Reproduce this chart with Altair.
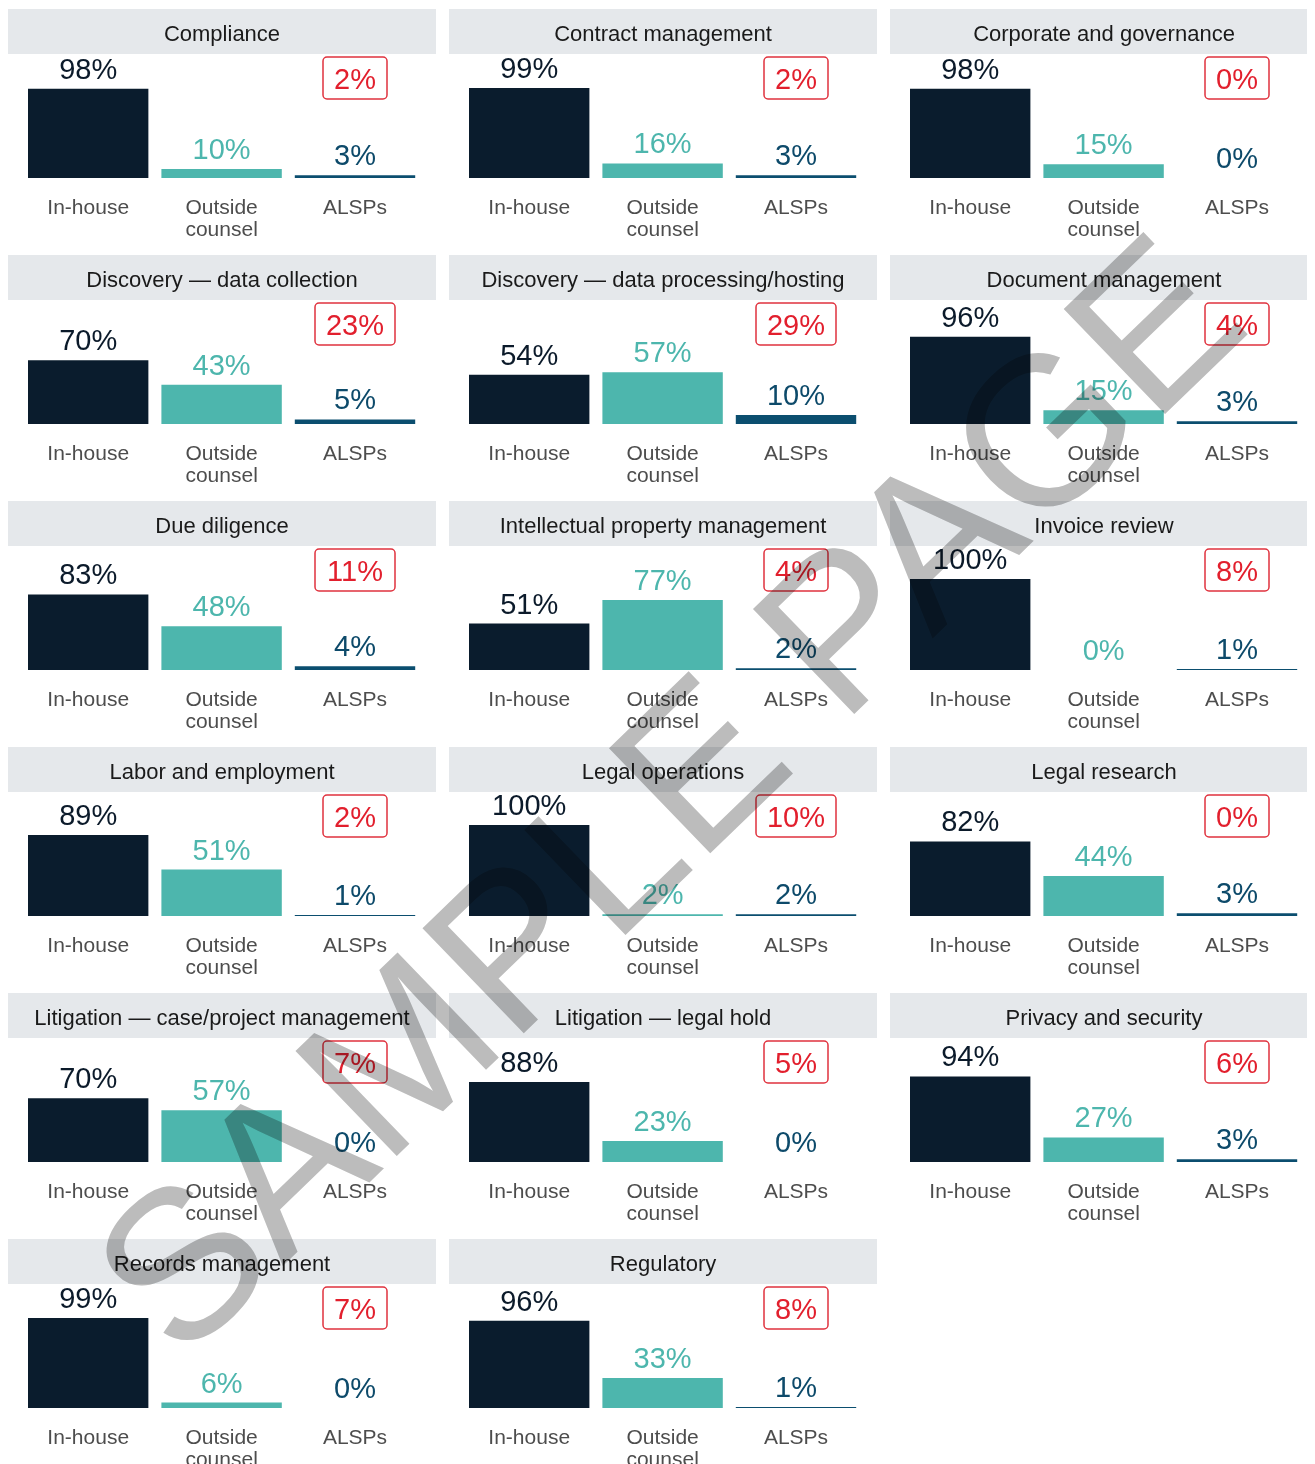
import json
import altair as alt
import pandas as pd

# ---------------- data ----------------
categories = [
    "Compliance",
    "Contract management",
    "Corporate and governance",
    "Discovery — data collection",
    "Discovery — data processing/hosting",
    "Document management",
    "Due diligence",
    "Intellectual property management",
    "Invoice review",
    "Labor and employment",
    "Legal operations",
    "Legal research",
    "Litigation — case/project management",
    "Litigation — legal hold",
    "Privacy and security",
    "Records management",
    "Regulatory",
]
inhouse = [98, 99, 98, 70, 54, 96, 83, 51, 100, 89, 100, 82, 70, 88, 94, 99, 96]
outside = [10, 16, 15, 43, 57, 15, 48, 77, 0, 51, 2, 44, 57, 23, 27, 6, 33]
alsps = [3, 3, 0, 5, 10, 3, 4, 2, 1, 1, 2, 3, 0, 0, 3, 0, 1]
boxed = [2, 2, 0, 23, 29, 4, 11, 4, 8, 2, 10, 0, 7, 5, 6, 7, 8]

groups = ["In-house", "Outside counsel", "ALSPs"]
group_text = ["In-house", "Outside\ncounsel", "ALSPs"]
watermark = "SAMPLE PAGE"

rows = []
for i, cat in enumerate(categories):
    for g, gt, v in zip(groups, group_text, (inhouse[i], outside[i], alsps[i])):
        rows.append({
            "category": cat,
            "group": g,
            "gtext": gt,
            "value": v,
            "vlabel": f"{v}%",
            "note": f"{boxed[i]}%",
            "wide": boxed[i] >= 10,
        })
df = pd.DataFrame(rows)

# ---------------- styling ----------------
FONT = "Liberation Sans"
W, H = 417, 233          # cell size (page is 1299 px wide inside the margins)
HEAD_W = 428             # header band width (overflows into the column gap)
bar_colors = ["#0a1c2d", "#4db6ad", "#0b4e6f"]
label_colors = ["#0b1a2a", "#4db6ad", "#0d4a6a"]
RED = "#e21f2d"

# y: value 0 -> 169 px, value 100 -> 78 px inside a 233 px cell
Y0, Y100 = 169.0, 78.0
span = 100.0 * H / (Y0 - Y100)
d0 = -(H - Y0) / H * span
ys = alt.Scale(domain=[d0, d0 + span], nice=False, zero=False)

# bands: 120 px bars on a 133.4 px step, first bar starting at x = 20
step, bw = 133.4, 120.4
pi = (step - bw) / step
r0 = 20 - (step - bw) / 2
xs = alt.Scale(domain=groups, range=[r0, r0 + 3 * step], paddingInner=pi, paddingOuter=pi / 2)
X = alt.X("group:N", scale=xs, axis=None, sort=groups)
Yv = alt.Y("value:Q", scale=ys, axis=None)

first = "datum.group == 'In-house'"
alsp = "datum.group == 'ALSPs'"
colidx = "indexof(%s, datum.category) %% 3" % json.dumps(categories, ensure_ascii=False)

header_a = alt.Chart().mark_rect(color="#e5e8eb").encode(
    x=alt.value(0), x2=alt.value(HEAD_W), y=alt.value(0), y2=alt.value(45)
).transform_filter(first + " && " + colidx + " < 2")

header_b = alt.Chart().mark_rect(color="#e5e8eb").encode(
    x=alt.value(0), x2=alt.value(W), y=alt.value(0), y2=alt.value(45)
).transform_filter(first + " && " + colidx + " == 2")

title = alt.Chart().mark_text(
    font=FONT, fontSize=22, color="#1a1a1a", align="center", baseline="alphabetic"
).encode(
    x=alt.value(HEAD_W / 2), y=alt.value(32), text="category:N"
).transform_filter(first)

bars = alt.Chart().mark_bar().encode(
    x=X,
    y=Yv,
    y2=alt.Y2(datum=0),
    color=alt.Color("group:N", scale=alt.Scale(domain=groups, range=bar_colors), legend=None),
)

values = alt.Chart().mark_text(
    font=FONT, fontSize=29, baseline="alphabetic", align="center", dy=-10
).encode(
    x=X,
    y=Yv,
    text="vlabel:N",
    color=alt.Color("group:N", scale=alt.Scale(domain=groups, range=label_colors), legend=None),
)

cats = alt.Chart().mark_text(
    font=FONT, fontSize=21, color="#4d4d4d", baseline="alphabetic", align="center",
    lineBreak="\n", lineHeight=22,
).encode(x=X, y=alt.value(205), text="gtext:N")

box_narrow = alt.Chart().mark_bar(
    width=64, fill="white", stroke="#e0323e", strokeWidth=1.5, cornerRadius=4
).encode(x=X, y=alt.value(48), y2=alt.value(90)).transform_filter(
    alsp + " && !datum.wide"
)

box_wide = alt.Chart().mark_bar(
    width=80, fill="white", stroke="#e0323e", strokeWidth=1.5, cornerRadius=4
).encode(x=X, y=alt.value(48), y2=alt.value(90)).transform_filter(
    alsp + " && datum.wide"
)

notes = alt.Chart().mark_text(
    font=FONT, fontSize=29, color=RED, baseline="alphabetic", align="center"
).encode(x=X, y=alt.value(80), text="note:N").transform_filter(alsp)

wm = alt.Chart().mark_text(
    text=watermark, font=FONT, fontSize=212, angle=316, color="#bcbcbc",
    blend="multiply", align="center", baseline="middle",
).encode(x=alt.value(224), y=alt.value(-439)).transform_filter(
    "datum.category == 'Regulatory' && datum.group == 'In-house'"
)

panel = alt.layer(
    header_a, header_b, title, bars, values, cats, box_narrow, box_wide, notes, wm, data=df
).resolve_scale(color="independent").properties(width=W, height=H)

chart = panel.facet(
    facet=alt.Facet(
        "category:N", sort=categories, title=None,
        header=alt.Header(labels=False, labelExpr="''", labelFontSize=1,
                          labelPadding=0, titlePadding=0),
    ),
    columns=3,
    spacing={"row": 13, "column": 441 - W},
    bounds="flush",
).properties(padding=0).configure_view(strokeWidth=0).configure_header(
    labels=False, labelPadding=0, titlePadding=0
)

chart.save("out.html", embed_options={"renderer": "svg", "actions": False})
